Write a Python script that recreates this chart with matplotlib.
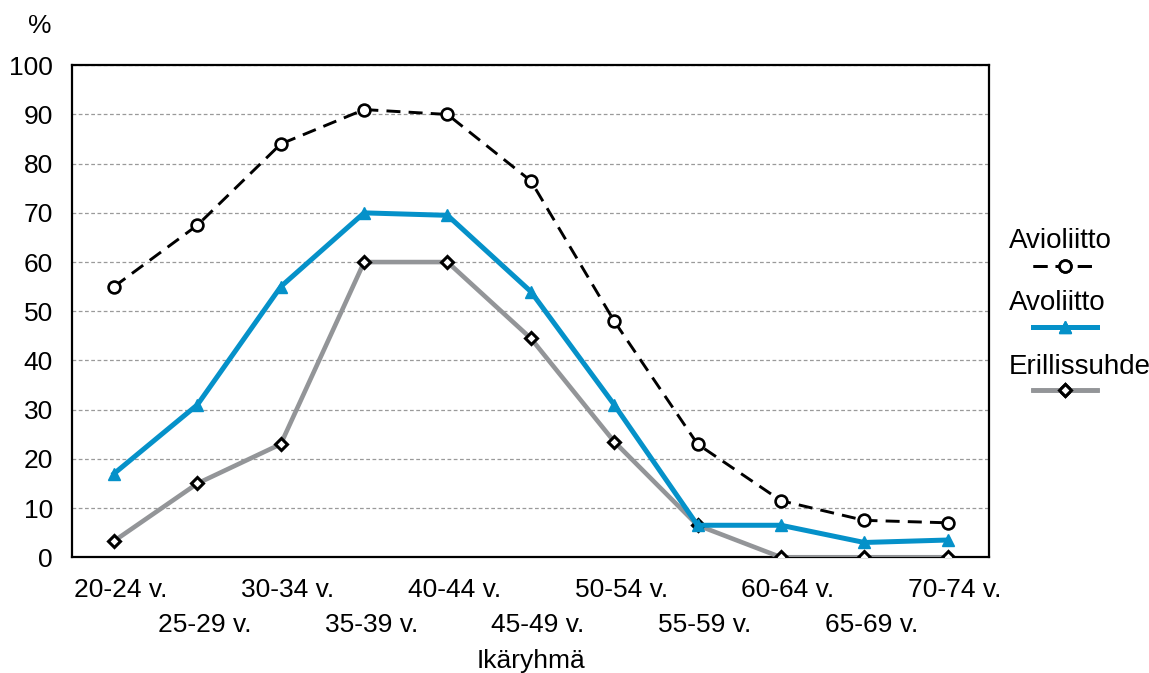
"""Line chart: share by age group for three relationship types."""

import matplotlib
matplotlib.use("Agg")
import matplotlib.pyplot as plt
from matplotlib.lines import Line2D
from matplotlib.transforms import ScaledTranslation

plt.rcParams["font.family"] = ["Liberation Sans", "DejaVu Sans"]

age_groups = ["20-24 v.", "25-29 v.", "30-34 v.", "35-39 v.", "40-44 v.", "45-49 v.",
              "50-54 v.", "55-59 v.", "60-64 v.", "65-69 v.", "70-74 v."]
avioliitto = [55, 67.5, 84, 91, 90, 76.5, 48, 23, 11.5, 7.5, 7]
avoliitto = [17, 31, 55, 70, 69.5, 54, 31, 6.5, 6.5, 3, 3.5]
erillissuhde = [3.3, 15, 23, 60, 60, 44.5, 23.5, 6.5, 0, 0, 0]

BLUE = "#0591c9"
GRAY = "#939598"
FS = 19

fig = plt.figure(figsize=(11.49, 6.73), dpi=100)
ax = fig.add_axes([0.063, 0.172, 0.798, 0.731])

x = list(range(len(age_groups)))

style_avio = dict(color="black", linestyle=(0, (4.8, 2.8)), linewidth=2.1, marker="o",
                  markersize=8.5, markerfacecolor="white", markeredgecolor="black",
                  markeredgewidth=1.9)
style_avo = dict(color=BLUE, linewidth=3.6, marker="^", markersize=9,
                 markerfacecolor=BLUE, markeredgecolor=BLUE)
style_eri = dict(color=GRAY, linewidth=3.3, marker="D", markersize=6.2,
                 markerfacecolor="white", markeredgecolor="black", markeredgewidth=2.2)

ax.plot(x, erillissuhde, zorder=3, **style_eri)
ax.plot(x, avoliitto, zorder=4, **style_avo)
ax.plot(x, avioliitto, zorder=5, **style_avio)

ax.set_xlim(-0.5, len(age_groups) - 0.5)
ax.set_ylim(0, 100)
ax.set_yticks(range(0, 101, 10))
ax.yaxis.grid(True, color="#9a9a9a", linestyle=(0, (3, 2)), linewidth=0.9)
ax.set_axisbelow(True)
for s in ax.spines.values():
    s.set_linewidth(1.6)
    s.set_color("black")

# alternate tick labels on two rows
ax.set_xticks(x[::2])
ax.set_xticklabels(age_groups[::2])
ax.set_xticks(x[1::2], minor=True)
ax.set_xticklabels(age_groups[1::2], minor=True)
ax.tick_params(axis="x", which="major", length=0, pad=15, labelsize=FS)
ax.tick_params(axis="x", which="minor", length=0, pad=40, labelsize=FS)
ax.tick_params(axis="y", length=0, pad=14, labelsize=FS)
shift = ScaledTranslation(7 / 100, 0, fig.dpi_scale_trans)
for lab in ax.get_xticklabels() + ax.get_xticklabels(minor=True):
    lab.set_transform(lab.get_transform() + shift)

ax.set_xlabel("Ikäryhmä", fontsize=FS, labelpad=9)
fig.text(0.035, 0.962, "%", fontsize=FS, ha="center", va="center")

# legend entries: label above the line sample
entries = [("Avioliitto", style_avio, 248, 268),
           ("Avoliitto", style_avo, 310, 329),
           ("Erillissuhde", style_eri, 374, 392)]
for label, st, base_px, line_px in entries:
    fig.text(1009 / 1149, 1 - base_px / 673, label, fontsize=20, ha="left", va="baseline")
    handle = Line2D([], [], **st)
    leg = fig.legend(handles=[handle], labels=[""], frameon=False, loc="center",
                     bbox_to_anchor=(1065 / 1149, 1 - line_px / 673), handlelength=2.45,
                     handletextpad=0, borderpad=0, borderaxespad=0, fontsize=FS)
    fig.add_artist(leg)

fig.savefig("out.png", dpi=100)
